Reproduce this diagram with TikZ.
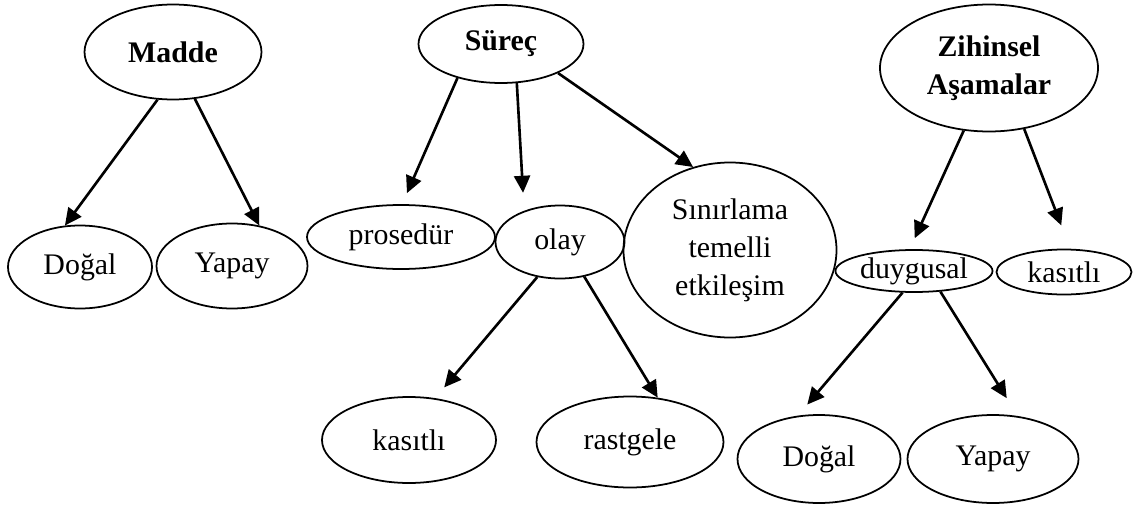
\documentclass[tikz,border=0pt]{standalone}
\usepackage{fontspec}
\setmainfont{Liberation Serif}
\usetikzlibrary{shapes.geometric,arrows.meta}

\begin{document}
\begin{tikzpicture}[
    oval/.style={ellipse,draw,line width=1pt,inner sep=0pt,align=center,font=\fontsize{17}{21.6}\selectfont},
    head/.style={oval,font=\fontsize{17}{21.6}\selectfont\bfseries},
    link/.style={-{Triangle[length=0.34cm,width=0.32cm]},line width=1.5pt}]
  \useasboundingbox (0,0) rectangle (22.82,-10.16);
  % Madde
  \node[head,minimum width=3.54cm,minimum height=1.9cm]  (madde)  at (3.46,-1.04) {Madde};
  \node[oval,minimum width=2.88cm,minimum height=1.66cm] (dogala) at (1.60,-5.34) {Doğal};
  \node[oval,minimum width=3.02cm,minimum height=1.70cm] (yapaya) at (4.64,-5.32) {Yapay};
  % Süreç
  \node[head,minimum width=3.30cm,minimum height=1.56cm] (surec)    at (10.02,-0.88) {Süreç};
  \node[oval,minimum width=3.76cm,minimum height=1.28cm] (prosedur) at (8.02,-4.74)  {prosedür};
  \node[oval,minimum width=2.58cm,minimum height=1.46cm] (olay)     at (11.20,-4.84) {olay};
  \node[oval,minimum width=4.26cm,minimum height=3.50cm] (sinir)    at (14.60,-5.00) {Sınırlama\\temelli\\etkileşim};
  \node[oval,minimum width=3.48cm,minimum height=1.72cm] (kasitlia) at (8.18,-8.80)  {kasıtlı};
  \node[oval,minimum width=3.74cm,minimum height=1.82cm] (rastgele) at (12.60,-8.84) {rastgele};
  % Zihinsel Aşamalar
  \node[head,minimum width=4.36cm,minimum height=2.54cm] (zihin)    at (19.78,-1.36) {Zihinsel\\Aşamalar};
  \node[oval,minimum width=3.14cm,minimum height=0.84cm] (duygu)    at (18.28,-5.42) {duygusal};
  \node[oval,minimum width=2.70cm,minimum height=0.90cm] (kasitlib) at (21.28,-5.44) {kasıtlı};
  \node[oval,minimum width=3.26cm,minimum height=1.76cm] (dogalb)   at (16.38,-9.18) {Doğal};
  \node[oval,minimum width=3.42cm,minimum height=1.76cm] (yapayb)   at (19.86,-9.18) {Yapay};

  \draw[link] (madde.252) -- (dogala.110);
  \draw[link] (madde.295) -- (yapaya.56);
  \draw[link,shorten >=0.24cm] (surec.218) -- (prosedur.88);
  \draw[link,shorten >=0.36cm] (surec.292) -- (olay.139);
  \draw[link] (surec.333) -- (sinir.114);
  \draw[link,shorten >=0.28cm] (olay.237) -- (kasitlia.58);
  \draw[link] (olay.305) -- (rastgele.58);
  \draw[link,shorten >=0.24cm] (zihin.248) -- (duygu.101);
  \draw[link,shorten >=0.5cm] (zihin.300) -- (kasitlib.75);
  \draw[link,shorten >=0.29cm] (duygu.242) -- (dogalb.116);
  \draw[link,shorten >=0.42cm] (duygu.322) -- (yapayb.60);
\end{tikzpicture}
\end{document}
